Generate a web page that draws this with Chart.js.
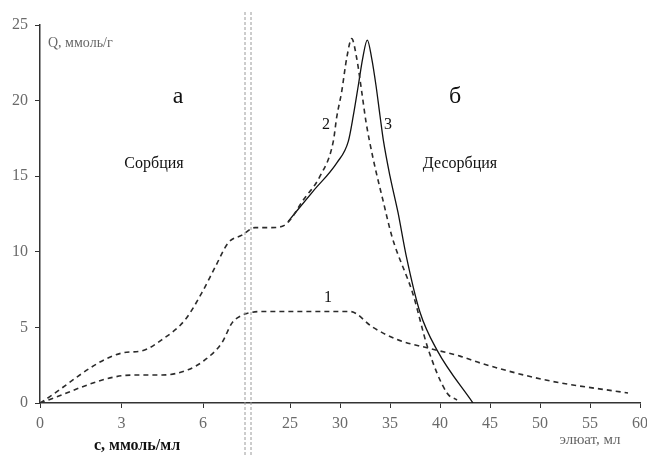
<!DOCTYPE html>
<html>
<head>
<meta charset="utf-8">
<script src="https://cdn.jsdelivr.net/npm/chart.js@4.4.1/dist/chart.umd.min.js"></script>
<style>
  html, body { margin: 0; padding: 0; background: #fff; }
  canvas { display: block; }
</style>
</head>
<body>
<canvas id="chart" width="647" height="457"></canvas>
<script>
// sorption part: c, mmol/ml
const sorbC1 = [0, 3, 3.6, 4.5, 5.45, 6.07, 6.7, 7.07, 7.43];
const sorbQ1 = [0, 1.8, 1.85, 1.85, 2.2, 2.85, 4.0, 5.3, 5.8];
const sorbC2 = [0, 3, 3.75, 4.5, 5.34, 5.96, 6.45, 6.93, 7.43];
const sorbQ2 = [0, 3.3, 3.45, 4.2, 5.5, 7.3, 9.0, 10.6, 11.1];

// desorption part: eluate, ml
const elutMl1 = [21.2, 22, 31, 33.3, 35.7, 38.7, 42, 44, 50.7, 58.8];
const elutQ1 = [6.0, 6.05, 6.05, 5.0, 4.2, 3.65, 3.1, 2.65, 1.5, 0.66];
const elutMl2 = [21.5, 23, 24.3, 25, 26.3, 28, 29.33, 29.67, 30.17, 30.67, 31.17, 31.67, 32.17, 32.6, 33.3, 34.3, 35.2, 37.3, 38.8, 40.7, 41.7];
const elutQ2 = [11.6, 11.6, 11.7, 12.1, 13.4, 15, 17.3, 18.9, 20.6, 22.8, 24.1, 22.8, 20.6, 18.6, 16.2, 13.4, 11, 7.2, 3.6, 0.66, 0.2];
const elutMl3 = [24.8, 27.3, 29.7, 30.83, 31.33, 31.83, 32.27, 32.73, 33.17, 33.6, 34.0, 34.33, 35, 35.8, 36.6, 38, 39.7, 43.3];
const elutQ3 = [12, 14, 15.9, 17.3, 19.0, 21.0, 22.8, 24.0, 22.8, 21.0, 19.0, 17.4, 15.0, 12.6, 9.8, 6.0, 3.5, 0];

const sorbTicks = [0, 3, 6];
const elutTicks = [25, 30, 35, 40, 45, 50, 55, 60];
const yTicks = [0, 5, 10, 15, 20, 25];

// one shared x axis: c values are stretched into eluate units
const C_TO_ML = 2.717;
const BREAK_ML = 20.8;

const serif = "'Liberation Serif', 'Times New Roman', serif";

function curve(cs, qs, mls, mqs) {
    const pts = [];
    cs.forEach((c, i) => pts.push({ x: c * C_TO_ML, y: qs[i] }));
    mls.forEach((m, i) => pts.push({ x: m, y: mqs[i] }));
    return pts;
}

const dashedStyle = {
    borderColor: '#2b2b2b',
    borderWidth: 1.6,
    borderDash: [5, 4],
    pointRadius: 0,
    cubicInterpolationMode: 'monotone',
    fill: false
};

const labels = [
    { text: 'Q, ммоль/г', x: 48, y: 43, size: 14, color: '#666', align: 'left' },
    { text: 'а', x: 178, y: 97, size: 24, color: '#111' },
    { text: 'Сорбция', x: 154, y: 164, size: 16, color: '#111' },
    { text: 'б', x: 455, y: 97, size: 24, color: '#111' },
    { text: 'Десорбция', x: 460, y: 164, size: 16, color: '#111' },
    { text: '2', x: 326, y: 125, size: 16, color: '#111' },
    { text: '3', x: 388, y: 125, size: 16, color: '#111' },
    { text: '1', x: 328, y: 298, size: 16, color: '#111' },
    { text: 'с, ммоль/мл', x: 137, y: 446, size: 16, color: '#111', weight: 'bold' },
    { text: 'элюат, мл', x: 590, y: 440, size: 15, color: '#666' }
];

const overlay = {
    id: 'overlay',
    afterDraw(chart) {
        const ctx = chart.ctx;
        const xs = chart.scales.x;
        const bx = xs.getPixelForValue(BREAK_ML);
        ctx.save();
        ctx.strokeStyle = '#9a9a9a';
        ctx.lineWidth = 1;
        ctx.setLineDash([3, 2]);
        [bx - 3, bx + 3].forEach(px => {
            ctx.beginPath();
            ctx.moveTo(px, 12);
            ctx.lineTo(px, chart.height);
            ctx.stroke();
        });
        ctx.setLineDash([]);
        ctx.textBaseline = 'middle';
        labels.forEach(l => {
            ctx.font = (l.weight || 'normal') + ' ' + l.size + 'px ' + serif;
            ctx.fillStyle = l.color;
            ctx.textAlign = l.align || 'center';
            ctx.fillText(l.text, l.x, l.y);
        });
        ctx.restore();
    }
};

new Chart(document.getElementById('chart'), {
    type: 'line',
    data: {
        datasets: [
            Object.assign({ label: '1', data: curve(sorbC1, sorbQ1, elutMl1, elutQ1) }, dashedStyle),
            Object.assign({ label: '2', data: curve(sorbC2, sorbQ2, elutMl2, elutQ2) }, dashedStyle),
            {
                label: '3',
                data: curve([], [], elutMl3, elutQ3),
                borderColor: '#111',
                borderWidth: 1.3,
                pointRadius: 0,
                cubicInterpolationMode: 'monotone',
                fill: false
            }
        ]
    },
    options: {
        responsive: false,
        animation: false,
        layout: { padding: { top: 25, right: 7, left: 0, bottom: 0 } },
        plugins: { legend: { display: false }, tooltip: { enabled: false } },
        scales: {
            x: {
                type: 'linear',
                min: 0,
                max: 60,
                border: { color: '#333', width: 1.5 },
                grid: { drawOnChartArea: false, tickLength: 5, color: '#333' },
                afterBuildTicks: (scale) => {
                    scale.ticks = sorbTicks.map(c => ({ value: c * C_TO_ML }))
                        .concat(elutTicks.map(v => ({ value: v })));
                },
                afterFit: (scale) => {
                    scale.height = 54;
                    scale.paddingLeft = 0;
                    scale.paddingRight = 0;
                },
                ticks: {
                    autoSkip: false,
                    maxRotation: 0,
                    color: '#6a6a6a',
                    padding: 6,
                    font: { family: serif, size: 16 },
                    callback: (value) => value < BREAK_ML ? String(Math.round(value / C_TO_ML)) : String(value)
                }
            },
            y: {
                min: 0,
                max: 25,
                border: { color: '#333', width: 1.5 },
                grid: { drawOnChartArea: false, tickLength: 5, color: '#333' },
                afterBuildTicks: (scale) => { scale.ticks = yTicks.map(v => ({ value: v })); },
                afterFit: (scale) => {
                    scale.width = 40;
                    scale.paddingTop = 0;
                    scale.paddingBottom = 0;
                },
                ticks: {
                    color: '#6a6a6a',
                    padding: 7,
                    font: { family: serif, size: 16 }
                }
            }
        }
    },
    plugins: [overlay]
});
</script>
</body>
</html>
